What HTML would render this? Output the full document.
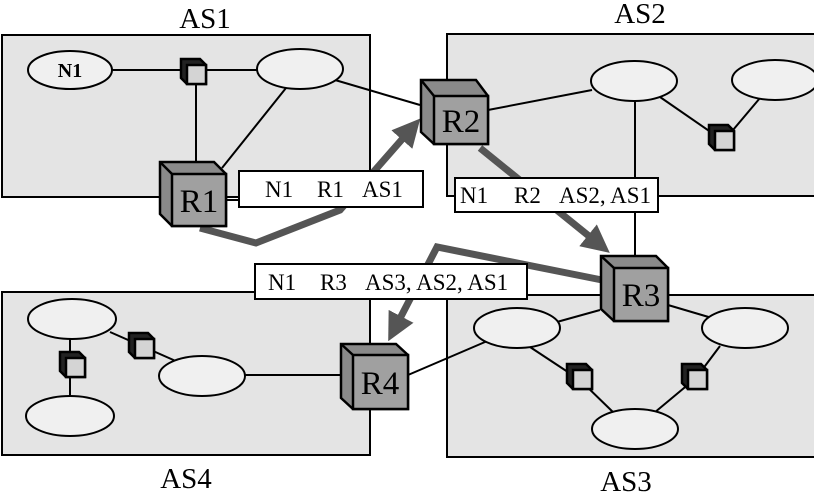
<!DOCTYPE html>
<html><head><style>body{margin:0;background:#fff}svg{display:block}</style></head><body>
<svg width="814" height="497" viewBox="0 0 814 497" xmlns="http://www.w3.org/2000/svg" font-family="Liberation Serif, serif">
<defs>
<marker id="ah" markerWidth="4" markerHeight="4" refX="2.2" refY="2" orient="auto" markerUnits="strokeWidth"><path d="M0,0 L4,2 L0,4 z" fill="#555"/></marker>
<g id="sr" stroke="#000" stroke-width="2.5"><path d="M-6,-6 L13,-6 L19,0 L19,19 L0,19 L-6,13 z" fill="#222"/><rect x="0" y="0" width="19" height="19" fill="#d4d4d4"/></g>
</defs>
<g fill="#e4e4e4" stroke="#000" stroke-width="2">
<rect x="2" y="35" width="368" height="162"/>
<rect x="447" y="34" width="370" height="162"/>
<rect x="447" y="295" width="370" height="162"/>
<rect x="2" y="292" width="368" height="163"/>
</g>
<g font-size="29" text-anchor="middle">
<text x="205" y="28">AS1</text><text x="640" y="23">AS2</text>
<text x="626" y="491">AS3</text><text x="186" y="488">AS4</text>
</g>
<g stroke="#000" stroke-width="2" fill="none">
<line x1="112" y1="70" x2="258" y2="70"/>
<line x1="196" y1="70" x2="196" y2="168"/>
<line x1="286" y1="88" x2="222" y2="168"/>
<line x1="335" y1="80" x2="420" y2="105"/>
<line x1="488" y1="110" x2="592" y2="90"/>
<line x1="635" y1="100" x2="635" y2="256"/>
<line x1="660" y1="97" x2="715" y2="135"/>
<line x1="733" y1="130" x2="760" y2="98"/>
<line x1="600" y1="310" x2="485" y2="342"/>
<line x1="668" y1="305" x2="712" y2="318"/>
<line x1="530" y1="347" x2="580" y2="380"/><line x1="580" y1="380" x2="615" y2="414"/>
<line x1="720" y1="346" x2="696" y2="378"/><line x1="696" y1="378" x2="654" y2="413"/>
<line x1="408" y1="375" x2="485" y2="342"/>
<line x1="245" y1="375" x2="341" y2="375"/>
<line x1="70" y1="338" x2="70" y2="398"/>
<line x1="110" y1="332" x2="178" y2="362"/>
<line x1="226" y1="200" x2="240" y2="200"/>
<line x1="370" y1="300" x2="370" y2="345"/>
</g>
<g fill="#f0f0f0" stroke="#000" stroke-width="2">
<ellipse cx="70" cy="70" rx="42" ry="19"/>
<ellipse cx="300" cy="69" rx="43" ry="20"/>
<ellipse cx="634" cy="81" rx="43" ry="20"/>
<ellipse cx="775" cy="80" rx="43" ry="20"/>
<ellipse cx="517" cy="328" rx="43" ry="20"/>
<ellipse cx="745" cy="328" rx="43" ry="20"/>
<ellipse cx="635" cy="429" rx="43" ry="20"/>
<ellipse cx="72" cy="319" rx="44" ry="20"/>
<ellipse cx="70" cy="416" rx="44" ry="20"/>
<ellipse cx="202" cy="376" rx="43" ry="20"/>
</g>
<text x="70" y="77" font-size="20" font-weight="bold" text-anchor="middle">N1</text>
<use href="#sr" x="187" y="65"/>
<use href="#sr" x="715" y="131"/>
<use href="#sr" x="573" y="370"/>
<use href="#sr" x="688" y="370"/>
<use href="#sr" x="66" y="358"/>
<use href="#sr" x="135" y="339"/>
<g stroke="#555" stroke-width="7" fill="none" stroke-linejoin="miter">
<polyline points="200,228 256,243 340,210 412,128" marker-end="url(#ah)"/>
<polyline points="480,148 600,245" marker-end="url(#ah)"/>
<polyline points="602,280 437,247 394,330" marker-end="url(#ah)"/>
</g>
<g fill="#fff" stroke="#000" stroke-width="2">
<rect x="239" y="171" width="184" height="36"/>
<rect x="455" y="178" width="203" height="34"/>
<rect x="255" y="264" width="272" height="35"/>
</g>
<g font-size="23">
<text x="265" y="197">N1</text><text x="317" y="197">R1</text><text x="362" y="197">AS1</text>
<text x="460" y="203">N1</text><text x="514" y="203">R2</text><text x="559" y="203">AS2, AS1</text>
<text x="268" y="290">N1</text><text x="320" y="290">R3</text><text x="365" y="290">AS3, AS2, AS1</text>
</g>
<g stroke="#000" stroke-width="2.5">
<g transform="translate(172,174)"><path d="M-12,-12 L42,-12 L54,0 L54,52 L0,52 L-12,40 z" fill="#8a8a8a"/><line x1="-12" y1="-12" x2="0" y2="0"/><rect width="54" height="52" fill="#a0a0a0"/></g>
<g transform="translate(434,96)"><path d="M-13,-16 L42,-16 L54,0 L54,48 L0,48 L-13,36 z" fill="#8a8a8a"/><line x1="-13" y1="-16" x2="0" y2="0"/><rect width="54" height="48" fill="#a0a0a0"/></g>
<g transform="translate(614,268)"><path d="M-13,-12 L42,-12 L54,0 L54,53 L0,53 L-13,41 z" fill="#8a8a8a"/><line x1="-13" y1="-12" x2="0" y2="0"/><rect width="54" height="53" fill="#a0a0a0"/></g>
<g transform="translate(353,355)"><path d="M-12,-11 L43,-11 L55,0 L55,54 L0,54 L-12,43 z" fill="#8a8a8a"/><line x1="-12" y1="-11" x2="0" y2="0"/><rect width="55" height="54" fill="#a0a0a0"/></g>
</g>
<g font-size="33" text-anchor="middle">
<text x="199" y="212">R1</text>
<text x="461" y="132">R2</text>
<text x="641" y="306">R3</text>
<text x="380" y="394">R4</text>
</g>
</svg>
</body></html>
